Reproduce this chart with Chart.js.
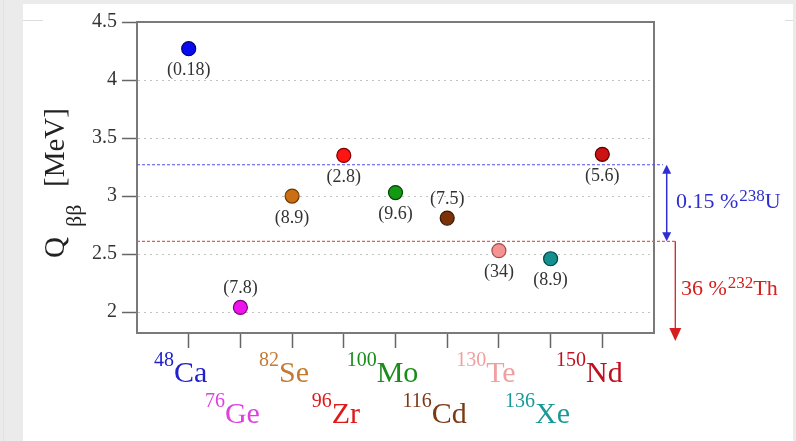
<!DOCTYPE html>
<html>
<head>
<meta charset="utf-8">
<script src="https://cdn.jsdelivr.net/npm/chart.js@4.4.1/dist/chart.umd.min.js"></script>
<style>
  html, body { margin: 0; padding: 0; background: #ebebeb; }
  #wrap { position: relative; width: 796px; height: 441px; overflow: hidden; }
  #sheet { position: absolute; left: 23px; top: 4px; width: 770px; height: 437px; background: #fff; }
  .rule { position: absolute; top: 20px; height: 1px; background: #dcdcdc; }
  #edge { position: absolute; left: 3px; top: 0; width: 1px; height: 441px; background: #e2e2e2; }
  canvas { position: absolute; left: 0; top: 0; }
</style>
</head>
<body>
<div id="wrap">
  <div id="edge"></div>
  <div id="sheet"></div>
  <div class="rule" style="left:23px;width:20px"></div>
  <div class="rule" style="left:785px;width:8px"></div>
  <canvas id="c" width="796" height="441"></canvas>
</div>
<script>
// Double-beta candidate isotopes, their Q values and natural abundances
const isotopes     = ['Ca', 'Ge', 'Se', 'Zr', 'Mo', 'Cd', 'Te', 'Xe', 'Nd'];
const massNumbers  = ['48', '76', '82', '96', '100', '116', '130', '136', '150'];
const qValues      = [4.27, 2.04, 3.00, 3.35, 3.03, 2.81, 2.53, 2.46, 3.36]; // MeV
const abundances   = ['0.18', '7.8', '8.9', '2.8', '9.6', '7.5', '34', '8.9', '5.6']; // %
const yTicks       = [2, 2.5, 3, 3.5, 4, 4.5];

// Natural background end points (MeV) and branching fractions
const bgLevels     = [3.27, 2.61];
const bgFractions  = ['0.15 %', '36 %'];
const bgMass       = ['238', '232'];
const bgElement    = ['U', 'Th'];
const thArrowEnd   = 1.75;

// Styling
const pointFill    = ['#0a0af0', '#ee14ee', '#cc6e12', '#ff1414', '#139a13', '#7b3208', '#f59292', '#168f8f', '#cc1212'];
const pointEdge    = ['#00007a', '#7a007a', '#6a3a00', '#7a0000', '#004400', '#3a1800', '#a04a4a', '#004646', '#5a0000'];
const labelColor   = ['#2222cc', '#e040e0', '#c47a32', '#e01818', '#1a8c1a', '#7a3a14', '#f0a0a0', '#1a9898', '#c01020'];
const labelAbove   = [false, true, false, false, false, true, false, false, false];
const SERIF = '"Liberation Serif", "Times New Roman", serif';
const BLUE = '#2e2ed2', RED = '#d62020';

const decor = {
  id: 'decor',
  beforeDatasetsDraw(chart) {
    const { ctx, chartArea: a, scales: { y } } = chart;
    ctx.save();
    // top and right sides of the frame
    ctx.strokeStyle = '#7a7a7a'; ctx.lineWidth = 2;
    ctx.beginPath();
    ctx.moveTo(a.left - 1, a.top); ctx.lineTo(a.right, a.top); ctx.lineTo(a.right, a.bottom + 1);
    ctx.stroke();
    // background end-point levels
    const yU = y.getPixelForValue(bgLevels[0]);
    const yT = y.getPixelForValue(bgLevels[1]);
    ctx.lineWidth = 1.2; ctx.setLineDash([3, 2]);
    ctx.strokeStyle = '#5050ea';
    ctx.beginPath(); ctx.moveTo(a.left, yU); ctx.lineTo(a.right + 9, yU); ctx.stroke();
    ctx.strokeStyle = '#e85a5a';
    ctx.beginPath(); ctx.moveTo(a.left, yT); ctx.lineTo(a.right + 21, yT); ctx.stroke();
    ctx.restore();
  },
  afterDatasetsDraw(chart) {
    const { ctx } = chart;
    const meta = chart.getDatasetMeta(0);
    ctx.save();
    ctx.font = '18px ' + SERIF;
    ctx.fillStyle = '#333';
    ctx.textAlign = 'center';
    ctx.textBaseline = 'middle';
    meta.data.forEach((pt, i) => {
      const dy = labelAbove[i] ? -19 : 22;
      ctx.fillText('(' + abundances[i] + ')', pt.x, pt.y + dy);
    });
    ctx.restore();
  },
  afterDraw(chart) {
    const { ctx, chartArea: a, scales: { x, y } } = chart;
    ctx.save();
    ctx.textBaseline = 'alphabetic';

    // isotope names, two staggered rows
    isotopes.forEach((sym, i) => {
      const cx = x.getPixelForValue(i) + 2;
      const base = a.bottom + (i % 2 === 0 ? 48.5 : 89.5);
      ctx.fillStyle = labelColor[i];
      ctx.font = '30px ' + SERIF;
      const w = ctx.measureText(sym).width;
      ctx.textAlign = 'left';
      ctx.fillText(sym, cx - w / 2, base);
      ctx.font = '20px ' + SERIF;
      ctx.textAlign = 'right';
      ctx.fillText(massNumbers[i], cx - w / 2, base - 16);
    });

    // y-axis title: Q_ββ [MeV]
    ctx.save();
    ctx.translate(64, 258);
    ctx.rotate(-Math.PI / 2);
    ctx.fillStyle = '#222';
    ctx.textAlign = 'left';
    ctx.font = '29px ' + SERIF;
    ctx.fillText('Q', 0, 0);
    ctx.font = '22px ' + SERIF;
    ctx.fillText('ββ', 31, 17);
    ctx.font = '29px ' + SERIF;
    ctx.fillText('[MeV]', 71, 0);
    ctx.restore();

    // arrows for the background ranges
    const yU = y.getPixelForValue(bgLevels[0]);
    const yT = y.getPixelForValue(bgLevels[1]);
    const yEnd = y.getPixelForValue(thArrowEnd);
    const xb = a.right + 12.7, xr = a.right + 21.3;
    ctx.lineWidth = 1.5;
    ctx.strokeStyle = BLUE; ctx.fillStyle = BLUE;
    ctx.beginPath(); ctx.moveTo(xb, yU + 6); ctx.lineTo(xb, yT - 6); ctx.stroke();
    ctx.beginPath(); ctx.moveTo(xb, yU); ctx.lineTo(xb - 4.5, yU + 9); ctx.lineTo(xb + 4.5, yU + 9); ctx.closePath(); ctx.fill();
    ctx.beginPath(); ctx.moveTo(xb, yT); ctx.lineTo(xb - 4.5, yT - 9); ctx.lineTo(xb + 4.5, yT - 9); ctx.closePath(); ctx.fill();
    ctx.strokeStyle = RED; ctx.fillStyle = RED;
    ctx.lineWidth = 1.3;
    ctx.beginPath(); ctx.moveTo(xr, yT); ctx.lineTo(xr, yEnd - 10); ctx.stroke();
    ctx.beginPath(); ctx.moveTo(xr, yEnd); ctx.lineTo(xr - 6, yEnd - 13); ctx.lineTo(xr + 6, yEnd - 13); ctx.closePath(); ctx.fill();

    // range captions
    const captions = [
      { color: BLUE, x: a.right + 22, base: (yU + yT) / 2 + 5 },
      { color: RED,  x: a.right + 27, base: yT + 54 }
    ];
    captions.forEach((c, i) => {
      ctx.fillStyle = c.color;
      ctx.textAlign = 'left';
      let px = c.x;
      ctx.font = '22px ' + SERIF;
      ctx.fillText(bgFractions[i], px, c.base);
      px += ctx.measureText(bgFractions[i]).width + 1;
      ctx.font = '17px ' + SERIF;
      ctx.fillText(bgMass[i], px, c.base - 7);
      px += ctx.measureText(bgMass[i]).width;
      ctx.font = '22px ' + SERIF;
      ctx.fillText(bgElement[i], px, c.base);
    });
    ctx.restore();
  }
};

new Chart(document.getElementById('c'), {
  type: 'scatter',
  data: {
    datasets: [{
      data: qValues.map((q, i) => ({ x: i, y: q })),
      pointRadius: 7,
      pointHoverRadius: 7,
      pointBorderWidth: 1.2,
      pointBackgroundColor: pointFill,
      pointBorderColor: pointEdge
    }]
  },
  options: {
    responsive: false,
    animation: false,
    events: [],
    layout: { padding: { left: 0, top: 22, right: 142, bottom: 0 } },
    plugins: { legend: { display: false }, tooltip: { enabled: false } },
    scales: {
      x: {
        type: 'linear',
        min: -1,
        max: 9,
        afterBuildTicks: s => { s.ticks = isotopes.map((_, i) => ({ value: i })); },
        afterFit: s => { s.height = 108; },
        grid: { drawOnChartArea: false, tickLength: 15, tickColor: '#666', tickWidth: 1.5 },
        border: { color: '#7a7a7a', width: 2 },
        ticks: { display: false }
      },
      y: {
        min: 1.82,
        max: 4.5,
        afterBuildTicks: s => { s.ticks = yTicks.map(v => ({ value: v })); },
        afterFit: s => { s.width = 137; },
        grid: {
          color: c => (c.tick && c.tick.value === 4.5) ? 'rgba(0,0,0,0)' : '#c2c2c2',
          lineWidth: 1,
          tickLength: 15,
          tickColor: '#666',
          tickWidth: 1.5
        },
        border: { color: '#7a7a7a', width: 2, dash: [2, 4] },
        ticks: {
          padding: 5,
          color: '#333',
          font: { family: SERIF, size: 20 },
          callback: v => String(v)
        }
      }
    }
  },
  plugins: [decor]
});
</script>
</body>
</html>
